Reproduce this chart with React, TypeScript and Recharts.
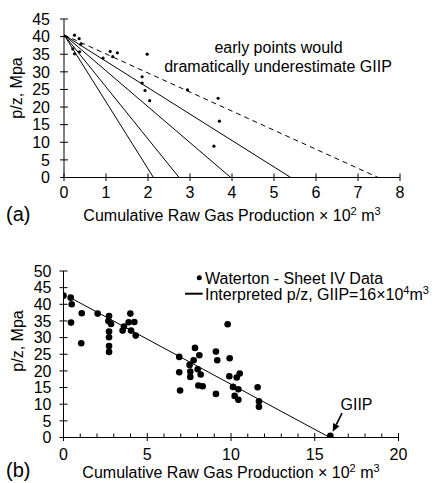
import React from 'react';
import { ComposedChart, XAxis, YAxis, Scatter, Line, ReferenceLine } from 'recharts';

const FONT = '"Liberation Sans", Arial, Helvetica, sans-serif';

// ---------- Chart (a) data ----------
const aXTicks = [0, 1, 2, 3, 4, 5, 6, 7, 8];
const aYTicks = [0, 5, 10, 15, 20, 25, 30, 35, 40, 45];
const aStartPZ = 40.5;
const aSolidIntercepts = [2.13, 2.74, 3.97, 5.4];
const aDashedIntercept = 7.48;
const aPoints = [
  { x: 0.25, y: 40.4 }, { x: 0.36, y: 39.4 }, { x: 0.4, y: 37.8 }, { x: 0.21, y: 36.5 },
  { x: 0.25, y: 35.1 }, { x: 0.37, y: 35.7 }, { x: 0.93, y: 33.9 }, { x: 1.1, y: 35.8 },
  { x: 1.16, y: 34.3 }, { x: 1.27, y: 35.4 }, { x: 1.98, y: 35.0 }, { x: 1.86, y: 28.6 },
  { x: 1.86, y: 26.8 }, { x: 1.93, y: 24.7 }, { x: 2.04, y: 21.8 }, { x: 2.94, y: 24.9 },
  { x: 3.67, y: 22.5 }, { x: 3.7, y: 16.0 }, { x: 3.57, y: 8.9 },
];

// ---------- Chart (b) data ----------
const bXTicks = Array.from({ length: 21 }, (_, i) => i);
const bXLabelTicks = [0, 5, 10, 15, 20];
const bYTicks = [0, 5, 10, 15, 20, 25, 30, 35, 40, 45, 50];
const bPoints = [
  { x: 0, y: 42.6 }, { x: 0.43, y: 42.0 }, { x: 0.49, y: 40.0 }, { x: 0.45, y: 34.5 },
  { x: 1.09, y: 37.3 }, { x: 1.06, y: 28.3 }, { x: 2.04, y: 37.2 }, { x: 2.72, y: 36.5 },
  { x: 2.68, y: 35.0 }, { x: 2.84, y: 34.1 }, { x: 2.72, y: 31.8 }, { x: 2.72, y: 30.1 },
  { x: 2.72, y: 27.5 }, { x: 2.72, y: 25.7 }, { x: 3.61, y: 33.3 }, { x: 3.53, y: 32.1 },
  { x: 3.89, y: 34.6 }, { x: 3.99, y: 37.2 }, { x: 4.23, y: 34.7 }, { x: 4.03, y: 32.1 },
  { x: 4.31, y: 30.6 }, { x: 6.91, y: 24.2 }, { x: 6.91, y: 19.6 }, { x: 6.96, y: 14.1 },
  { x: 7.85, y: 26.9 }, { x: 8.11, y: 24.7 }, { x: 7.77, y: 23.2 }, { x: 7.53, y: 21.8 },
  { x: 7.57, y: 19.8 }, { x: 7.57, y: 18.2 }, { x: 8.01, y: 20.5 }, { x: 8.19, y: 18.9 },
  { x: 8.05, y: 15.6 }, { x: 8.31, y: 15.4 }, { x: 9.1, y: 25.8 }, { x: 9.18, y: 23.2 },
  { x: 9.1, y: 13.1 }, { x: 9.8, y: 34.0 }, { x: 9.92, y: 23.8 }, { x: 9.9, y: 18.4 },
  { x: 10.34, y: 18.0 }, { x: 10.52, y: 19.2 }, { x: 10.12, y: 15.2 }, { x: 10.44, y: 14.5 },
  { x: 10.22, y: 12.5 }, { x: 10.44, y: 11.3 }, { x: 11.59, y: 15.1 }, { x: 11.67, y: 10.9 },
  { x: 11.67, y: 9.2 },
];
const bInterpLine = [{ x: 0.4, y: 42.0 }, { x: 15.9, y: 0 }];
const bGiipPoint = [{ x: 15.93, y: 0.5 }];
const bGiipArrow = [{ x: 16.63, y: 7.3 }, { x: 16.07, y: 1.7 }];

// ---------- helpers ----------
const makeXTick = (labels: number[] | null, inward: number, outward: number, majorIn: number, labelDy: number) =>
  (props: any) => {
    const { x, y, payload } = props;
    const v = payload.value;
    const isMajor = labels ? labels.includes(v) : true;
    return (
      <g>
        <line x1={x} x2={x} y1={y - (isMajor ? majorIn : inward)} y2={y + (isMajor ? outward : 0)} stroke="#000" strokeWidth={1} />
        {isMajor && (
          <text x={x} y={y + labelDy} textAnchor="middle" fontSize={16} fontFamily={FONT} fill="#000">
            {v}
          </text>
        )}
      </g>
    );
  };

const makeYTick = (gap: number) => (props: any) => {
  const { x, y, payload } = props;
  return (
    <g>
      <line x1={x - 4} x2={x + 4} y1={y} y2={y} stroke="#000" strokeWidth={1} />
      <text x={x - gap} y={y} dy="0.36em" textAnchor="end" fontSize={16} fontFamily={FONT} fill="#000">
        {payload.value}
      </text>
    </g>
  );
};

const SmallDot = (p: any) => <circle cx={p.cx} cy={p.cy} r={1.6} fill="#000" />;
const BigDot = (p: any) => <circle cx={p.cx} cy={p.cy} r={3.3} fill="#000" />;

const ArrowShape = (p: any) => {
  const { x1, y1, x2, y2 } = p;
  const ang = Math.atan2(y2 - y1, x2 - x1);
  const L = 8;
  const W = 3.5;
  const bx = x2 - L * Math.cos(ang);
  const by = y2 - L * Math.sin(ang);
  const px = -Math.sin(ang) * W;
  const py = Math.cos(ang) * W;
  return (
    <g>
      <line x1={x1} y1={y1} x2={bx} y2={by} stroke="#000" strokeWidth={1.6} />
      <polygon points={`${x2},${y2} ${bx + px},${by + py} ${bx - px},${by - py}`} fill="#000" />
    </g>
  );
};

const lineData = (xi: number) => [{ x: 0, y: aStartPZ }, { x: xi, y: 0 }];

const Sup = ({ children }: { children: React.ReactNode }) => (
  <tspan fontSize={11} dy={-6}>{children}</tspan>
);

const AXW = 50; // y-axis width
const AXH = 30; // x-axis height

export default function App() {
  return (
    <div style={{ position: 'absolute', left: 0, top: 0, width: 435, height: 483, background: '#fff', fontFamily: FONT }}>
      <div style={{ position: 'absolute', left: 0, top: 0 }}>
        <ComposedChart width={435} height={240} margin={{ top: 19, right: 35, bottom: 62.5 - AXH, left: 64 - AXW }}>
          <XAxis
            type="number"
            dataKey="x"
            domain={[0, 8]}
            ticks={aXTicks}
            interval={0}
            height={AXH}
            tickSize={0}
            tickMargin={0}
            axisLine={{ stroke: '#000', strokeWidth: 1 }}
            tickLine={false}
            tick={makeXTick(null, 4, 3.5, 4, 20)}
            allowDataOverflow
          />
          <YAxis
            type="number"
            dataKey="y"
            domain={[0, 45]}
            ticks={aYTicks}
            interval={0}
            width={AXW}
            tickSize={0}
            tickMargin={0}
            axisLine={{ stroke: '#000', strokeWidth: 1 }}
            tickLine={false}
            tick={makeYTick(14)}
            allowDataOverflow
          />
          {aSolidIntercepts.map((xi, i) => (
            <Line
              key={i}
              data={lineData(xi)}
              dataKey="y"
              type="linear"
              stroke="#000"
              strokeWidth={1}
              dot={false}
              activeDot={false}
              isAnimationActive={false}
            />
          ))}
          <Line
            data={lineData(aDashedIntercept)}
            dataKey="y"
            type="linear"
            stroke="#000"
            strokeWidth={1}
            strokeDasharray="5 4"
            dot={false}
            activeDot={false}
            isAnimationActive={false}
          />
          <Scatter data={aPoints} dataKey="y" shape={SmallDot} isAnimationActive={false} />
        </ComposedChart>
      </div>

      <div style={{ position: 'absolute', left: 0, top: 240 }}>
        <ComposedChart width={435} height={243} margin={{ top: 31, right: 36.5, bottom: 45.5 - AXH, left: 63.5 - AXW }}>
          <XAxis
            type="number"
            dataKey="x"
            domain={[0, 20]}
            ticks={bXTicks}
            interval={0}
            height={AXH}
            tickSize={0}
            tickMargin={0}
            axisLine={{ stroke: '#000', strokeWidth: 1 }}
            tickLine={false}
            tick={makeXTick(bXLabelTicks, 4, 3.5, 4.5, 22)}
            allowDataOverflow
          />
          <YAxis
            type="number"
            dataKey="y"
            domain={[0, 50]}
            ticks={bYTicks}
            interval={0}
            width={AXW}
            tickSize={0}
            tickMargin={0}
            axisLine={{ stroke: '#000', strokeWidth: 1 }}
            tickLine={false}
            tick={makeYTick(12)}
            allowDataOverflow
          />
          <Line
            data={bInterpLine}
            dataKey="y"
            type="linear"
            stroke="#000"
            strokeWidth={1}
            dot={false}
            activeDot={false}
            isAnimationActive={false}
          />
          <Scatter data={bPoints} dataKey="y" shape={BigDot} isAnimationActive={false} />
          <Scatter data={bGiipPoint} dataKey="y" shape={BigDot} isAnimationActive={false} />
          <ReferenceLine segment={bGiipArrow} shape={ArrowShape} ifOverflow="visible" />
        </ComposedChart>
      </div>

      <svg width={435} height={483} style={{ position: 'absolute', left: 0, top: 0, pointerEvents: 'none' }}>
        <g fontFamily={FONT} fill="#000">
          {/* chart (a) texts */}
          <text x={278.5} y={52.5} textAnchor="middle" fontSize={16}>early points would</text>
          <text x={278} y={71.5} textAnchor="middle" fontSize={16}>dramatically underestimate GIIP</text>
          <text transform="translate(16,88) rotate(-90)" textAnchor="middle" dy="0.36em" fontSize={16}>p/z, Mpa</text>
          <text x={232} y={221} textAnchor="middle" fontSize={16}>
            Cumulative Raw Gas Production × 10<Sup>2</Sup><tspan dy={6}> m</tspan><Sup>3</Sup>
          </text>
          <text x={6} y={221} fontSize={20}>(a)</text>

          {/* chart (b) texts */}
          <text transform="translate(17,341) rotate(-90)" textAnchor="middle" dy="0.36em" fontSize={16}>p/z, Mpa</text>
          <circle cx={199.3} cy={277.7} r={2.5} fill="#000" />
          <text x={205} y={283.5} fontSize={16}>Waterton - Sheet IV Data</text>
          <line x1={185} x2={202.7} y1={293.7} y2={293.7} stroke="#000" strokeWidth={2} />
          <text x={205} y={299.5} fontSize={16}>
            Interpreted p/z, GIIP=16×10<Sup>4</Sup><tspan dy={6}>m</tspan><Sup>3</Sup>
          </text>
          <text x={356.5} y={410} textAnchor="middle" fontSize={16}>GIIP</text>
          <text x={231} y={478} textAnchor="middle" fontSize={16}>
            Cumulative Raw Gas Production × 10<Sup>2</Sup><tspan dy={6}> m</tspan><Sup>3</Sup>
          </text>
          <text x={6} y={477} fontSize={20}>(b)</text>
        </g>
      </svg>
    </div>
  );
}
